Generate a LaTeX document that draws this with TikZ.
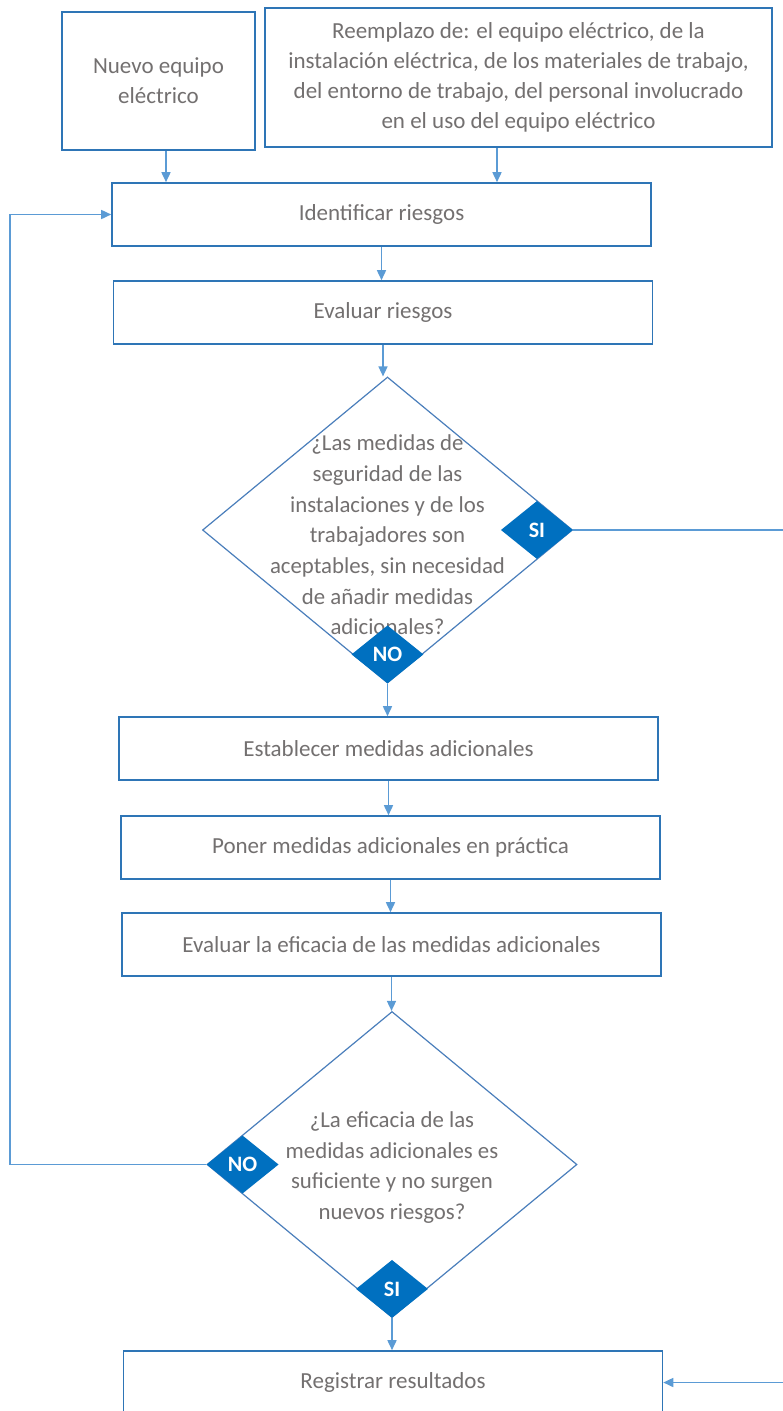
\documentclass[tikz,border=0pt]{standalone}
\usepackage{fontspec}
\setmainfont{Carlito}
\usepackage{tikz}
\usetikzlibrary{arrows.meta, positioning, shapes.geometric}
\definecolor{flowblue}{RGB}{46,117,182}
\definecolor{flowline}{RGB}{91,155,213}
\definecolor{flowdiam}{RGB}{74,126,187}
\definecolor{flowbadge}{RGB}{0,112,192}
\definecolor{flowgray}{RGB}{115,112,112}
\tikzset{
  stepbox/.style={
    rectangle, draw=flowblue, line width=1.6pt, fill=white,
    minimum width=539pt, minimum height=63pt,
    align=center, text=flowgray, font=\fontsize{23}{30}\selectfont
  },
  decision/.style={
    diamond, draw=flowdiam, line width=1.2pt, fill=white,
    minimum width=370pt, minimum height=306pt, inner sep=0pt
  },
  question/.style={
    align=center, text=flowgray, font=\fontsize{22.8}{30.7}\selectfont
  },
  badge/.style={
    diamond, fill=flowbadge, minimum width=72pt, minimum height=58pt,
    inner sep=0pt, text=white, font=\bfseries\fontsize{22}{24}\selectfont
  },
  arrowflow/.style={-{Triangle[length=10pt,width=9pt]}, line width=1.6pt, draw=flowline}
}

\begin{document}
\begin{tikzpicture}[x=1pt, y=-1pt]
\useasboundingbox (0,0) rectangle (782,1411);

\node[stepbox, minimum width=193pt, minimum height=138pt] (nuevo) at (158.5,81) {Nuevo equipo\\ eléctrico};
\node[stepbox, minimum width=507pt, minimum height=139pt] (reemplazo) at (518.5,77.5) {Reemplazo de: el equipo eléctrico, de la\\ instalación eléctrica, de los materiales de trabajo,\\ del entorno de trabajo, del personal involucrado\\ en el uso del equipo eléctrico};
\node[stepbox] (ident) at (381.5,214.5) {Identificar riesgos};
\node[stepbox] (evaluar) at (383,312.5) {Evaluar riesgos};
\node[decision] (seguro) at (387.5,530) {};
\node[question] (pregseguro) at ([yshift=-5pt]seguro.center) {¿Las medidas de\\ seguridad de las\\ instalaciones y de los\\ trabajadores son\\ aceptables, sin necesidad\\ de añadir medidas\\ adicionales?};
\node[badge, anchor=east] (si1) at (seguro.east) {SI};
\node[badge, anchor=south] (no1) at (seguro.south) {NO};
\node[stepbox] (establecer) at (388.5,748.5) {Establecer medidas adicionales};
\node[stepbox] (poner) at (390.5,847.5) {Poner medidas adicionales en práctica};
\node[stepbox] (eficacia) at (391.5,944.5) {Evaluar la eficacia de las medidas adicionales};
\node[decision] (suficiente) at (392,1164.5) {};
\node[question] (pregsuficiente) at ([yshift=-3pt]suficiente.center) {¿La eficacia de las\\ medidas adicionales es\\ suficiente y no surgen\\ nuevos riesgos?};
\node[badge, anchor=west] (no2) at (suficiente.west) {NO};
\node[badge, anchor=south] (si2) at (suficiente.south) {SI};
\node[stepbox] (registrar) at (393,1382.5) {Registrar resultados};

\coordinate (loopleft) at (10,1165);
\coordinate (loopright) at (790,530);

\draw[arrowflow] ([xshift=7.5pt]nuevo.south) -- ([xshift=7.5pt]nuevo.south |- ident.north);
\draw[arrowflow] ([xshift=-21.5pt]reemplazo.south) -- ([xshift=-21.5pt]reemplazo.south |- ident.north);
\foreach \a/\b in {ident/evaluar, evaluar/seguro, seguro/establecer, establecer/poner, poner/eficacia, eficacia/suficiente, suficiente/registrar}
  \draw[arrowflow] (\a.south) -- (\a.south |- \b.north);

\draw[arrowflow] (no2.west) -- (no2.west -| loopleft) |- (ident.west);
\draw[arrowflow] (si1.east) -- (si1.east -| loopright) |- (registrar.east);
\end{tikzpicture}
\end{document}
